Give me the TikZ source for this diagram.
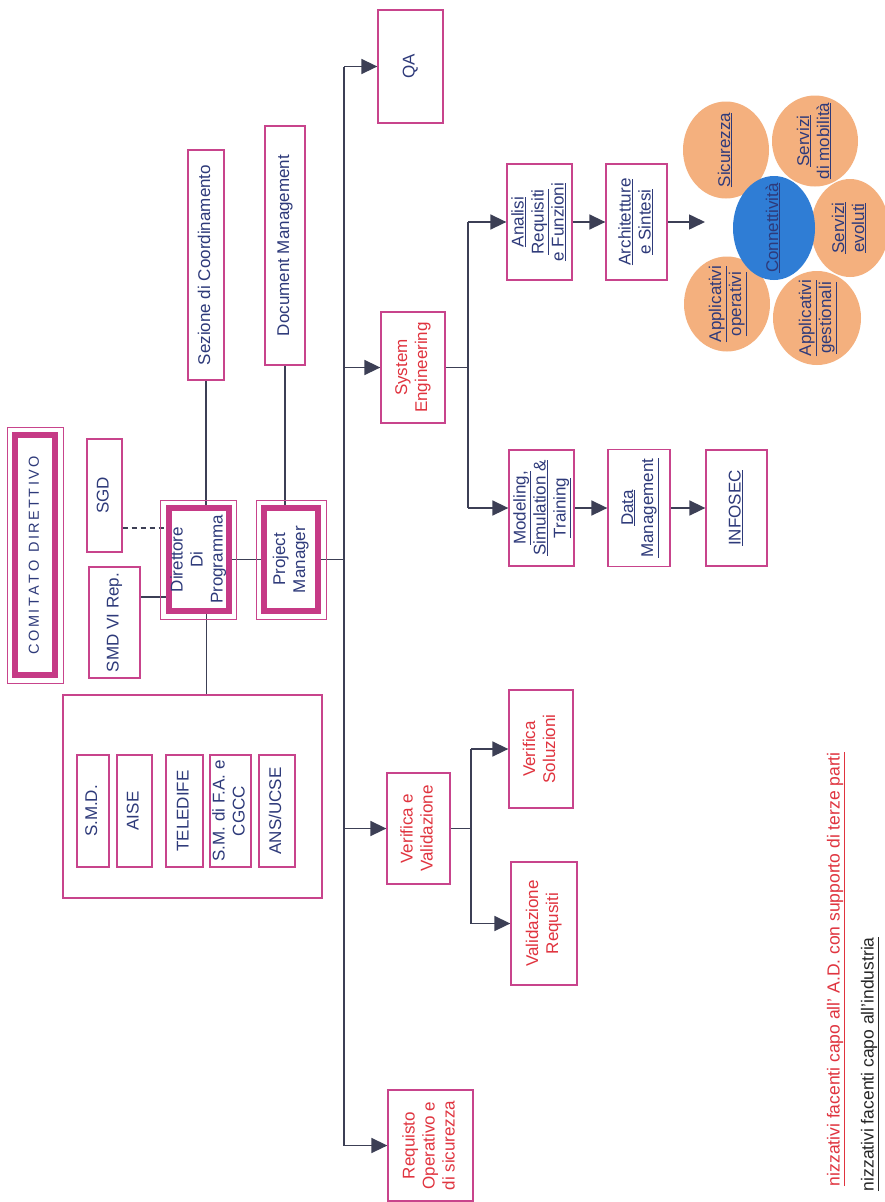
\documentclass[tikz,border=0pt]{standalone}
\usepackage{fontspec}
\setmainfont{Liberation Sans}
\usetikzlibrary{arrows.meta,shapes.geometric,backgrounds}
\definecolor{mag}{HTML}{C8448C}
\definecolor{magb}{HTML}{C63A86}
\definecolor{navy}{HTML}{2E3A7A}
\definecolor{rd}{HTML}{E0343F}
\definecolor{lncol}{HTML}{3C3F55}
\definecolor{orng}{HTML}{F4B07E}
\definecolor{blu}{HTML}{2F7DD5}
\newcommand\rt[1]{\rotatebox{90}{\begin{tabular}{@{}c@{}}#1\end{tabular}}}
\newcommand\bxf{\fontsize{17}{20}\selectfont}
\newcommand\uln[1]{\underline{#1}}
\begin{document}
\begin{tikzpicture}[x=1pt,y=-1pt,
  box/.style={draw=mag, line width=1.3pt, fill=white, inner sep=0pt, text=navy, font=\bxf},
  rbox/.style={box, text=rd},
  thk/.style={draw=magb, line width=6pt, fill=white, inner sep=0pt, text=navy, font=\bxf},
  outl/.style={draw=mag, line width=1pt},
  conn/.style={draw=lncol, line width=1.6pt},
  arr/.style={conn, -{Triangle[length=16pt,width=15pt]}},
  oval/.style={ellipse, fill=orng, draw=none, inner sep=0pt},
  otext/.style={text=navy, font=\bxf, inner sep=0pt},
  legf/.style={rotate=90, anchor=east, inner sep=0pt, font=\fontsize{17.5}{20}\selectfont}
]
\useasboundingbox (0,0) rectangle (885,1202);
\begin{scope}[on background layer]
\fill[white] (0,0) rectangle (885,1202);
\end{scope}

% left group
\node[thk, minimum width=40pt, minimum height=240pt] (com) at (35,555) {\rt{\fontsize{14.5}{18}\selectfont C\,O\,M\,I\,T\,A\,T\,O\ \ D\,I\,R\,E\,T\,T\,I\,V\,O}};
\draw[outl] ([shift={(-5pt,5pt)}]com.north west) rectangle ([shift={(5pt,-5pt)}]com.south east);
\node[box, minimum width=35pt, minimum height=113pt] (sgd) at (104.5,495.5) {\rt{SGD}};
\node[box, minimum width=51pt, minimum height=111pt] (smdvi) at (114.5,622.5) {\rt{SMD VI Rep.}};
\node[thk, minimum width=57pt, minimum height=103pt] (dir) at (198.5,559.5) {\rt{Direttore\\Di\\Programma}};
\draw[outl] ([shift={(-5pt,5pt)}]dir.north west) rectangle ([shift={(5pt,-5pt)}]dir.south east);
\node[thk, minimum width=54pt, minimum height=103pt] (pm) at (291,559.5) {\rt{Project\\Manager}};
\draw[outl] ([shift={(-5pt,5pt)}]pm.north west) rectangle ([shift={(5pt,-5pt)}]pm.south east);
\node[box, minimum width=36pt, minimum height=230pt] (sez) at (206,265) {\rt{Sezione di Coordinamento}};
\node[box, minimum width=40pt, minimum height=239pt] (docm) at (285,245.5) {\rt{Document Management}};

\node[box, minimum width=259pt, minimum height=203pt] (enti) at (192.5,796.5) {};
\node[box, minimum width=32pt, minimum height=112pt] (smd) at (93,811) {\rt{S.M.D.}};
\node[box, minimum width=35pt, minimum height=112pt] (aise) at (134.5,811) {\rt{AISE}};
\node[box, minimum width=37pt, minimum height=112pt] (tele) at (184.5,811) {\rt{TELEDIFE}};
\node[box, minimum width=41pt, minimum height=112pt] (smfa) at (230.5,811) {\rt{S.M. di F.A. e\\CGCC}};
\node[box, minimum width=36pt, minimum height=112pt] (ans) at (277,811) {\rt{ANS/UCSE}};

% branches
\node[box, minimum width=65pt, minimum height=113pt] (qa) at (410.5,66.5) {\rt{QA}};
\node[rbox, minimum width=64pt, minimum height=111pt] (se) at (413,367.5) {\rt{System\\Engineering}};
\node[box, minimum width=65pt, minimum height=116pt] (an) at (539.5,222) {\rt{\uln{Analisi}\\\uln{Requisiti}\\\uln{e Funzioni}}};
\node[box, minimum width=61pt, minimum height=116pt] (ar) at (636.5,222) {\rt{\uln{Architetture}\\\uln{e Sintesi}}};
\node[box, minimum width=65pt, minimum height=116pt] (mo) at (541.5,508) {\rt{\uln{Modeling,}\\\uln{Simulation \&}\\\uln{Training}}};
\node[box, minimum width=62pt, minimum height=117pt] (dm) at (639,508) {\rt{\uln{Data}\\\uln{Management}}};
\node[box, minimum width=61pt, minimum height=116pt] (inf) at (736.5,508) {\rt{\uln{INFOSEC}}};
\node[rbox, minimum width=63pt, minimum height=111pt] (vev) at (418.5,828.5) {\rt{Verifica e\\Validazione}};
\node[rbox, minimum width=64pt, minimum height=118pt] (vs) at (541,749) {\rt{Verifica\\Soluzioni}};
\node[rbox, minimum width=66pt, minimum height=123pt] (vr) at (544,923.5) {\rt{Validazione\\Requsiti}};
\node[rbox, minimum width=85pt, minimum height=111pt] (req) at (430.5,1145.5) {\rt{Requisto\\Operativo e\\di sicurezza}};

% ovals
\node[oval, minimum width=86pt, minimum height=97pt] (sic) at (726,150) {};
\node[oval, minimum width=86pt, minimum height=91pt] (smob) at (815,141) {};
\node[oval, minimum width=78pt, minimum height=98pt] (sev) at (850,228) {};
\node[oval, minimum width=88pt, minimum height=94pt] (agest) at (817,318) {};
\node[oval, minimum width=86pt, minimum height=95pt] (aop) at (727,304) {};
\node[oval, fill=blu, minimum width=82pt, minimum height=104pt] (cnt) at (774,228) {};
\node[otext] (tsic) at (sic) {\rt{\uln{Sicurezza}}};
\node[otext] (tsmob) at (smob) {\rt{\uln{Servizi}\\\uln{di mobilità}}};
\node[otext] (tsev) at (sev) {\rt{\uln{Servizi}\\\uln{evoluti}}};
\node[otext] (tagest) at (agest) {\rt{\uln{Applicativi}\\\uln{gestionali}}};
\node[otext] (taop) at (aop) {\rt{\uln{Applicativi}\\\uln{operativi}}};
\node[otext] (tcnt) at (cnt) {\rt{\uln{Connettività}}};

% legend
\node[legf, text=rd] (leg1) at (836,752) {\uln{nizzativi facenti capo all' A.D. con supporto di terze parti}};
\node[legf, text=black!85] (leg2) at (870,937) {\uln{nizzativi facenti capo all'industria}};

% connectors
\coordinate (bx) at (344,0);
\coordinate (bt) at (344,66.5);
\coordinate (bb) at (344,1145.5);
\coordinate (b2) at (468,0);
\coordinate (b3) at (471,0);
\coordinate (ct) at (705,222);
\coordinate (dy) at (0,528);
\coordinate (sy) at (0,597);
\begin{scope}[on background layer]
\draw[conn] (bt) -- (bb);
\draw[arr] (bt) -- (qa.west);
\draw[arr] (bx |- se.west) -- (se.west);
\draw[arr] (bx |- vev.west) -- (vev.west);
\draw[arr] (bb) -- (req.west);
\draw[conn] (pm.east) -- (bx |- pm.east);
\draw[conn] (se.east) -- (se.east -| b2);
\draw[conn] (b2 |- an.west) -- (b2 |- mo.west);
\draw[arr] (b2 |- an.west) -- (an.west);
\draw[arr] (b2 |- mo.west) -- (mo.west);
\draw[arr] (an.east) -- (ar.west);
\draw[arr] (ar.east) -- (ct);
\draw[arr] (mo.east) -- (dm.west);
\draw[arr] (dm.east) -- (inf.west);
\draw[conn] (vev.east) -- (vev.east -| b3);
\draw[conn] (b3 |- vs.west) -- (b3 |- vr.west);
\draw[arr] (b3 |- vs.west) -- (vs.west);
\draw[arr] (b3 |- vr.west) -- (vr.west);
\draw[conn] (sez.south) -- (sez.south |- dir.north);
\draw[conn] (docm.south) -- (docm.south |- pm.north);
\draw[conn] (dir.east) -- (pm.west);
\draw[conn, dash pattern=on 5pt off 4pt] (sgd.east |- dy) -- (dir.west |- dy);
\draw[conn] (smdvi.east |- sy) -- (dir.west |- sy);
\draw[conn] ([xshift=8pt]dir.south) -- ([xshift=8pt]dir.south |- enti.north);
\end{scope}
\end{tikzpicture}
\end{document}
